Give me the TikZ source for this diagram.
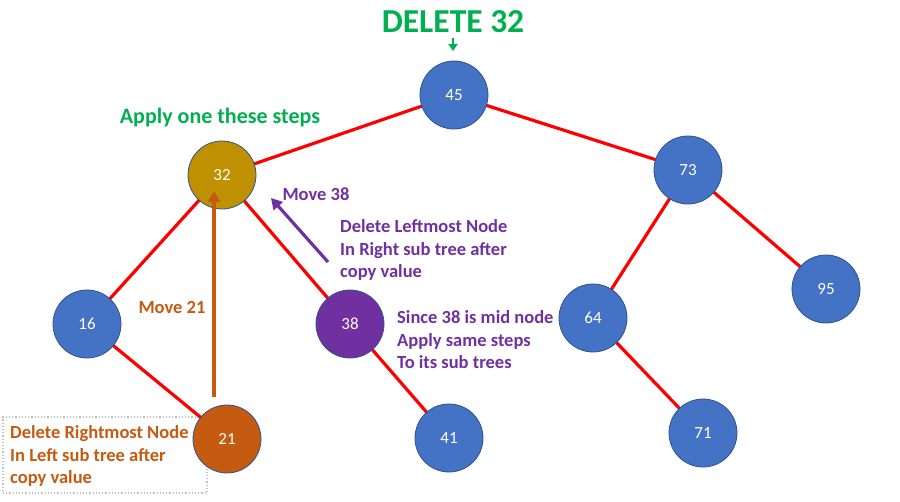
\documentclass[tikz,border=0pt]{standalone}
\usepackage{fontspec}
\setmainfont{Carlito}
\usetikzlibrary{arrows.meta}
\definecolor{nblue}{HTML}{4472C4}
\definecolor{nedge}{HTML}{2F528F}
\definecolor{ngold}{HTML}{BF9000}
\definecolor{npurple}{HTML}{7030A0}
\definecolor{norange}{HTML}{C55A11}
\definecolor{tgreen}{HTML}{00B050}
\tikzset{
  tnode/.style={circle, minimum size=68pt, inner sep=0pt, draw=nedge, line width=0.8pt, text=white, font=\fontsize{17}{17}\selectfont},
  bluenode/.style={tnode, fill=nblue},
  tedge/.style={draw=red, line width=3.2pt},
  lbl/.style={font=\fontsize{18.5}{22.5}\selectfont\bfseries, align=left, inner sep=0pt},
  movearrow/.style={line width=3.2pt, -{Triangle[length=11pt,width=12pt]}},
}
\begin{document}
\begin{tikzpicture}[x=1pt,y=1pt]
\useasboundingbox (0,0) rectangle (900,-501);
% coordinates of nodes
\coordinate (c45) at (454,-95);
\coordinate (c32) at (222,-175);
\coordinate (c73) at (688,-170);
\coordinate (c16) at (87,-324);
\coordinate (c38) at (350,-324);
\coordinate (c64) at (593,-318);
\coordinate (c95) at (826,-289);
\coordinate (c41) at (449,-438);
\coordinate (c71) at (703,-433);
\coordinate (c21) at (227,-439);
% dotted box
\node[draw=gray!50, dotted, line width=1.2pt, minimum width=204pt, minimum height=76pt, inner sep=0pt] (box) at (105,-455) {};
\node[lbl, text=norange, anchor=west] (t21) at (10,-456) {Delete Rightmost Node\\In Left sub tree after\\copy value};
% edges
\draw[tedge] (c45) -- (c32);
\draw[tedge] (c45) -- (c73);
\draw[tedge] (c32) -- (c16);
\draw[tedge] (c32) -- (c38);
\draw[tedge] (c16) -- (c21);
\draw[tedge] (c38) -- (c41);
\draw[tedge] (c73) -- (c64);
\draw[tedge] (c73) -- (c95);
\draw[tedge] (c64) -- (c71);
% nodes above edges
\node[bluenode] (n45) at (c45) {45};
\node[tnode, fill=ngold] (n32) at (c32) {32};
\node[bluenode] (n73) at (c73) {73};
\node[bluenode] (n16) at (c16) {16};
\node[tnode, fill=npurple] (n38) at (c38) {38};
\node[bluenode] (n64) at (c64) {64};
\node[bluenode] (n95) at (c95) {95};
\node[bluenode] (n41) at (c41) {41};
\node[bluenode] (n71) at (c71) {71};
\node[tnode, fill=norange] (n21) at (c21) {21};
% title
\node[font=\fontsize{33.5}{33.5}\selectfont\bfseries, text=tgreen] (title) at (453,-22) {DELETE 32};
\coordinate (ta) at (453,-38);
\coordinate (tb) at (453,-51);
\draw[tgreen, line width=2pt, -{Triangle[length=7pt,width=9pt]}] (ta) -- (tb);
\node[font=\fontsize{22}{22}\selectfont\bfseries, text=tgreen] (apply) at (220,-118) {Apply one these steps};
% move 38
\node[lbl, text=npurple] (m38) at (316,-194) {Move 38};
\coordinate (p1) at (328,-262);
\coordinate (p2) at (271,-198);
\draw[npurple, movearrow] (p1) -- (p2);
\node[lbl, text=npurple, anchor=west] (dl) at (340,-250) {Delete Leftmost Node\\In Right sub tree after\\copy value};
\node[lbl, text=npurple, anchor=west] (since) at (397,-340) {Since 38 is mid node\\Apply same steps\\To its sub trees};
% move 21
\node[lbl, text=norange] (m21) at (172,-307) {Move 21};
\coordinate (q1) at (214,-397);
\coordinate (q2) at (214,-191);
\draw[norange, movearrow] (q1) -- (q2);
\end{tikzpicture}
\end{document}
